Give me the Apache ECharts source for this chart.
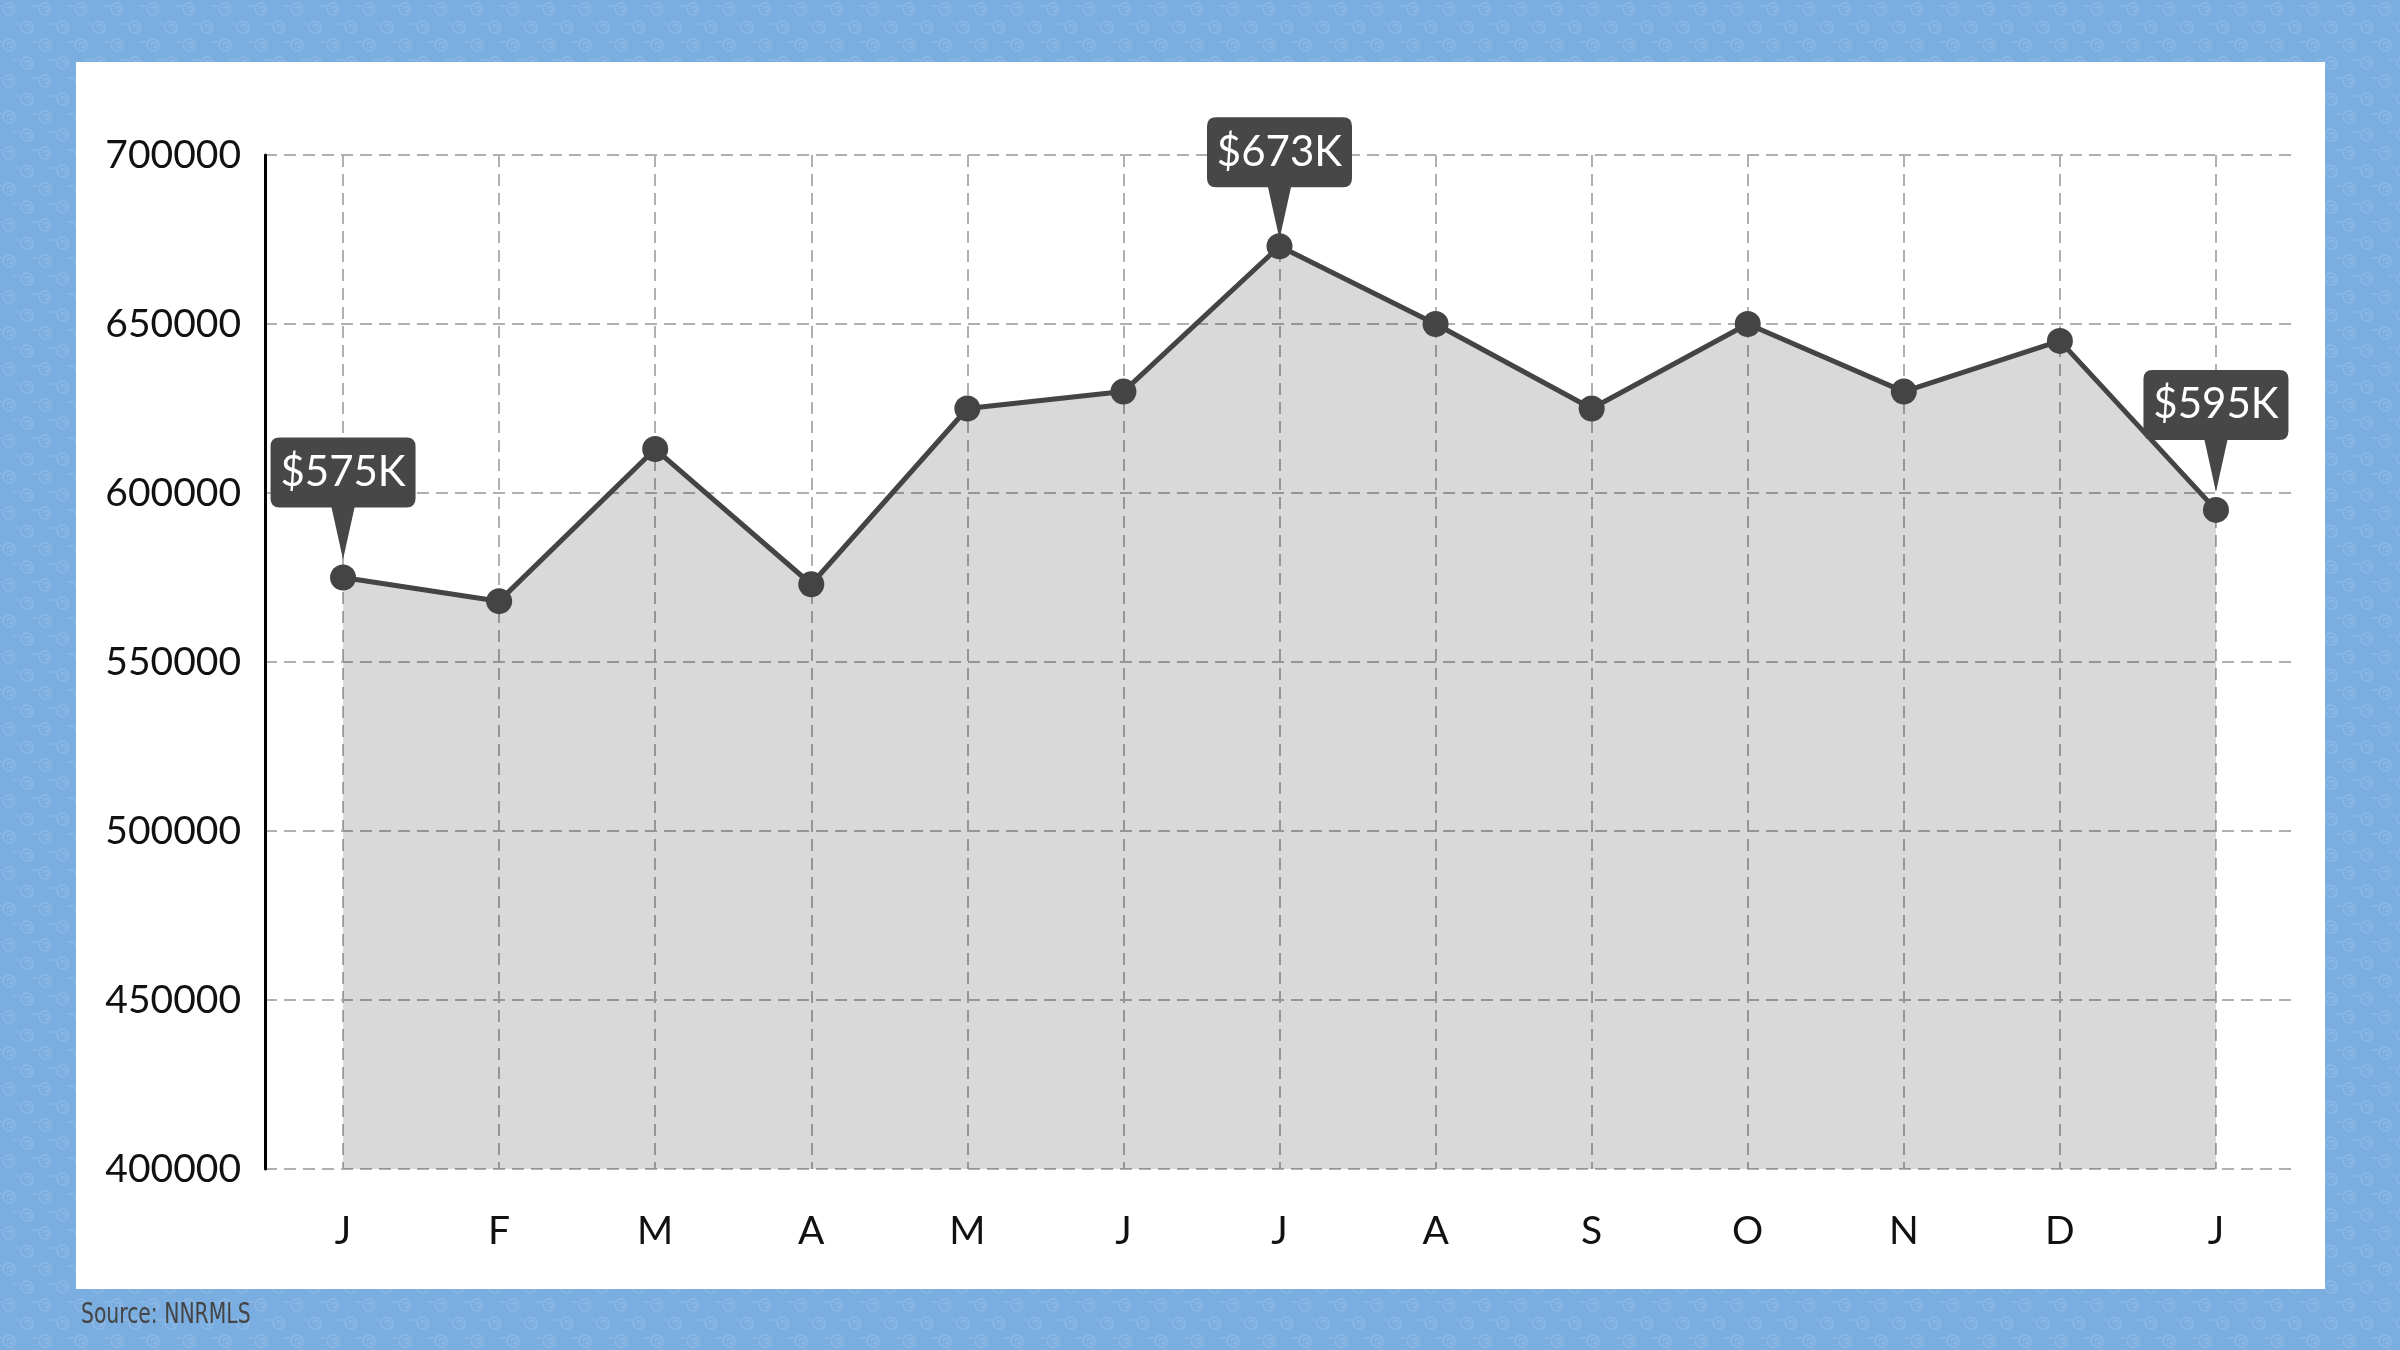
<!DOCTYPE html>
<html>
<head>
<meta charset="utf-8">
<script src="https://cdn.jsdelivr.net/npm/echarts@6/dist/echarts.min.js"></script>
<style>
html,body{margin:0;padding:0;background-color:#7BAEE0;}
#chart{width:2400px;height:1350px;}
</style>
</head>
<body>
<div id="chart"></div>
<script>
const categories = ['J','F','M','A','M','J','J','A','S','O','N','D','J'];
const values = [575000, 568000, 613000, 573000, 625000, 630000, 673000, 650000, 625000, 650000, 630000, 645000, 595000];
const calloutIndexes = [0, 6, 12];
const calloutTexts = ['$575K', '$673K', '$595K'];
const yTicks = {min: 400000, max: 700000, interval: 50000};
const sourceText = 'Source: NNRMLS';

// decorative background pattern (page backdrop only)
(function () {
  const c = document.createElement('canvas');
  c.width = 36; c.height = 36;
  const g = c.getContext('2d');
  g.fillStyle = '#7BAEE0';
  g.fillRect(0, 0, 36, 36);
  g.strokeStyle = 'rgba(255,255,255,0.13)';
  g.lineWidth = 1.5;
  function swirl(cx, cy) {
    g.beginPath(); g.arc(cx, cy, 6, 0, Math.PI * 2); g.stroke();
    g.beginPath(); g.arc(cx + 1, cy, 2.5, Math.PI, Math.PI * 2.6); g.stroke();
    g.beginPath(); g.moveTo(cx - 14, cy - 3); g.lineTo(cx - 7, cy - 3); g.stroke();
  }
  [[9, 9], [27, 27], [45, 9], [-9, 27], [9, 45], [27, -9]].forEach(p => swirl(p[0], p[1]));
  document.body.style.backgroundImage = 'url(' + c.toDataURL() + ')';
})();

const chart = echarts.init(document.getElementById('chart'), null, {renderer: 'canvas'});

const calloutPath = 'path://M9,0 L136,0 Q145,0 145,9 L145,61 Q145,70 136,70 L84,70 L72.5,122 L61,70 L9,70 Q0,70 0,61 L0,9 Q0,0 9,0 Z';
const maxVal = Math.max.apply(null, values);

chart.setOption({
  animation: false,
  backgroundColor: 'transparent',
  graphic: [
    {type: 'rect', z: -10, shape: {x: 76, y: 62, width: 2249, height: 1227}, style: {fill: '#ffffff'}},
    {type: 'text', x: 81, y: 1301, scaleX: 0.78, style: {text: sourceText, fill: '#444444', font: '29px "Liberation Sans Narrow", "DejaVu Sans Condensed", sans-serif'}}
  ],
  grid: {left: 265, top: 155, right: 106, bottom: 181, containLabel: false},
  xAxis: {
    type: 'category',
    data: categories,
    boundaryGap: true,
    axisLine: {show: false},
    axisTick: {show: false},
    axisLabel: {color: '#111', fontFamily: 'Lato', fontSize: 39, margin: 43},
    splitLine: {show: true, alignWithLabel: true, lineStyle: {color: '#b0b0b0', width: 2, type: [12, 7]}}
  },
  yAxis: {
    type: 'value',
    min: yTicks.min, max: yTicks.max, interval: yTicks.interval,
    axisLine: {show: true, lineStyle: {color: '#000', width: 3}},
    axisTick: {show: false},
    axisLabel: {color: '#111', fontFamily: 'Lato', fontSize: 39, margin: 24, formatter: v => String(v)},
    splitLine: {show: true, lineStyle: {color: '#b0b0b0', width: 2, type: [12, 7]}}
  },
  series: [{
    type: 'line',
    data: values,
    symbol: 'circle',
    symbolSize: 26,
    showSymbol: true,
    lineStyle: {color: '#444444', width: 5},
    itemStyle: {color: '#444444'},
    areaStyle: {color: 'rgba(0,0,0,0.15)', opacity: 1},
    markPoint: {
      symbol: calloutPath,
      symbolSize: [145, 122],
      symbolOffset: [0, -77],
      itemStyle: {color: '#474747'},
      label: {show: true, position: 'inside', offset: [0, -26], color: '#fff', fontFamily: 'Lato', fontSize: 42, formatter: p => p.name},
      data: calloutIndexes.map((idx, k) => ({
        name: calloutTexts[k],
        coord: [idx, values[idx]],
        symbolOffset: values[idx] === maxVal ? [0, -68] : [0, -79]
      }))
    }
  }]
});
</script>
</body>
</html>
